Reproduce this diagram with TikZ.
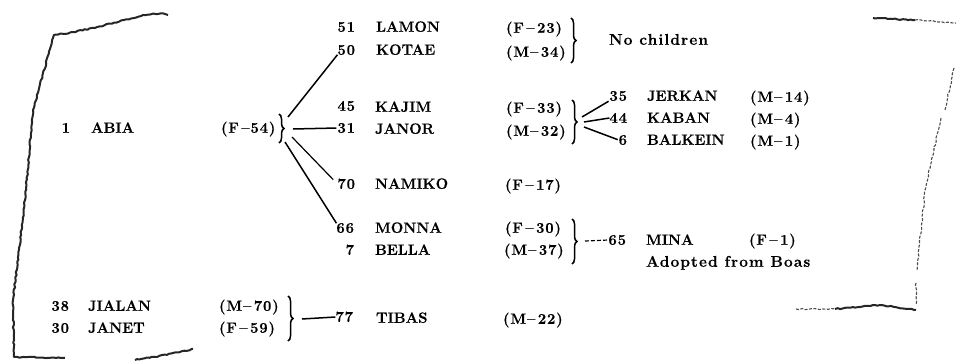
\documentclass[tikz,border=0pt]{standalone}
\usepackage{fontspec}
\setmainfont[BoldFeatures={FakeBold=0.5}]{Latin Modern Roman}
\usetikzlibrary{decorations.pathreplacing,decorations.pathmorphing}
\tikzset{
  x=1pt,y=-1pt,
  lab/.style={inner sep=0pt,outer sep=0pt,text height=9.5pt,text depth=0pt,font=\fontsize{14.8}{16}\selectfont\bfseries,text=black},
  num/.style={lab,anchor=east,font=\fontsize{14.8}{16}\selectfont\bfseries\addfontfeature{LetterSpace=6}},
  nam/.style={lab,anchor=west},
  age/.style={nam,font=\fontsize{14.8}{16}\selectfont\bfseries\addfontfeature{LetterSpace=6}},
  note/.style={nam,font=\fontsize{15.5}{16}\selectfont\bfseries\addfontfeature{LetterSpace=7}},
  link/.style={line width=1.5pt,black},
  thinlink/.style={line width=1.2pt,black},
  brc/.style={line width=1.5pt,black,decorate,decoration={brace,amplitude=5pt,aspect=0.5}},
  scrawl/.style={line width=2pt,black!85,decorate,decoration={random steps,segment length=2.5pt,amplitude=0.6pt},line join=round},
  faint/.style={line width=1.1pt,black!70,dash pattern=on 3pt off 1.5pt,decorate,decoration={random steps,segment length=3pt,amplitude=0.7pt}},
}
\pgfmathsetseed{7}
\begin{document}
\begin{tikzpicture}
\useasboundingbox (0,0) rectangle (956,361);
% hand-drawn crop marks
\draw[scrawl] (168,15) .. controls (150,8) and (110,28) .. (54,35) -- (33,110) -- (25,200) -- (13,300) -- (14,357) -- (65,358);
\draw[scrawl] (135,360) .. controls (155,357) and (175,353) .. (193,349);
\draw[scrawl] (873,18) -- (915,20);
\draw[faint] (915,20) -- (956,23);
\draw[faint] (954,68) -- (945,110);
\draw[faint] (941,118) -- (925,190) -- (917,270);
\draw[faint] (916,283) -- (916,305);
\draw[scrawl] (916,310) -- (880,305) -- (835,309);
\draw[faint] (796,309) -- (835,309);
% left column
\node[num] (n1) at (70,128) {1};
\node[nam] (abia) at (91,128) {ABIA};
\node[age] (abiaage) at (221,128) {(F\,--54)};
\node[num] (n38) at (69,306) {38};
\node[nam] (jialan) at (88,306) {JIALAN};
\node[age] (jialanage) at (219,306) {(M--\,70)};
\node[num] (n30) at (69,328) {30};
\node[nam] (janet) at (88,328) {JANET};
\node[age] (janetage) at (219,328) {(F\,--\,59)};
% middle column
\node[num] (n51) at (355,27) {51};
\node[nam] (lamon) at (376,27) {LAMON};
\node[age] (lamonage) at (506,28) {(F\,--\,23)};
\node[num] (n50) at (355,50) {50};
\node[nam] (kotae) at (376,50) {KOTAE};
\node[age] (kotaeage) at (506,52) {(M--\,34)};
\node[num] (n45) at (355,106) {45};
\node[nam] (kajim) at (375,107) {KAJIM};
\node[age] (kajimage) at (506,108) {(F\,--\,33)};
\node[num] (n31) at (355,128) {31};
\node[nam] (janor) at (375,129) {JANOR};
\node[age] (janorage) at (506,131) {(M--\,32)};
\node[num] (n70) at (355,184) {70};
\node[nam] (namiko) at (375,184) {NAMIKO};
\node[age] (namikoage) at (505,185) {(F\,--\,17)};
\node[num] (n66) at (354,228) {66};
\node[nam] (monna) at (375,228) {MONNA};
\node[age] (monnaage) at (505,228) {(F\,--\,30)};
\node[num] (n7) at (354,250) {7};
\node[nam] (bella) at (375,250) {BELLA};
\node[age] (bellaage) at (504,250) {(M--\,37)};
\node[num] (n77) at (353,317) {77};
\node[nam] (tibas) at (376,318) {TIBAS};
\node[age] (tibasage) at (503,319) {(M--\,22)};
% right column
\node[note] (nochild) at (609,40) {No children};
\node[num] (n35) at (627,96) {35};
\node[nam] (jerkan) at (647,96) {JERKAN};
\node[age] (jerkanage) at (750,97) {(M--\,14)};
\node[num] (n44) at (627,118) {44};
\node[nam] (kaban) at (647,118) {KABAN};
\node[age] (kabanage) at (750,119) {(M--\,4)};
\node[num] (n6) at (627,140) {6};
\node[nam] (balkein) at (647,140) {BALKEIN};
\node[age] (balkeinage) at (750,141) {(M--\,1)};
\node[num] (n65) at (626,240) {65};
\node[nam] (mina) at (646,240) {MINA};
\node[age] (minaage) at (749,240) {(F\,--\,1)};
\node[note] (adopted) at (646,262) {Adopted from Boas};
% braces
\draw[brc] (279,114) -- (279,143);
\draw[brc] (288,296) -- (288,341);
\draw[brc] (571,18) -- (571,63);
\draw[brc] (572,100) -- (572,144);
\draw[brc] (572,219) -- (572,264);
% connector starts
\coordinate (a1) at (288,117);
\coordinate (a2) at (293,129);
\coordinate (a3) at (292,137);
\coordinate (a4) at (285,142);
\coordinate (t1) at (302,319);
\coordinate (k1) at (582,117);
\coordinate (k2) at (584,122);
\coordinate (k3) at (584,127);
\coordinate (m1) at (585,241);
% connectors
\draw[link] (a1) -- (n50.south west);
\draw[link,shorten >=1pt] (a2) -- (n31.west);
\draw[thinlink,shorten >=6pt] (a3) -- (n70.west);
\draw[link] (a4) -- (n66.north west);
\draw[link] (t1) -- (n77.west);
\draw[link,shorten >=1pt] (k1) -- (n35.south west);
\draw[link] (k2) -- (n44.west);
\draw[link,shorten >=1pt] (k3) -- (n6.west);
\draw[thinlink,dash pattern=on 4pt off 2pt] (m1) -- (n65.west);
\end{tikzpicture}
\end{document}
